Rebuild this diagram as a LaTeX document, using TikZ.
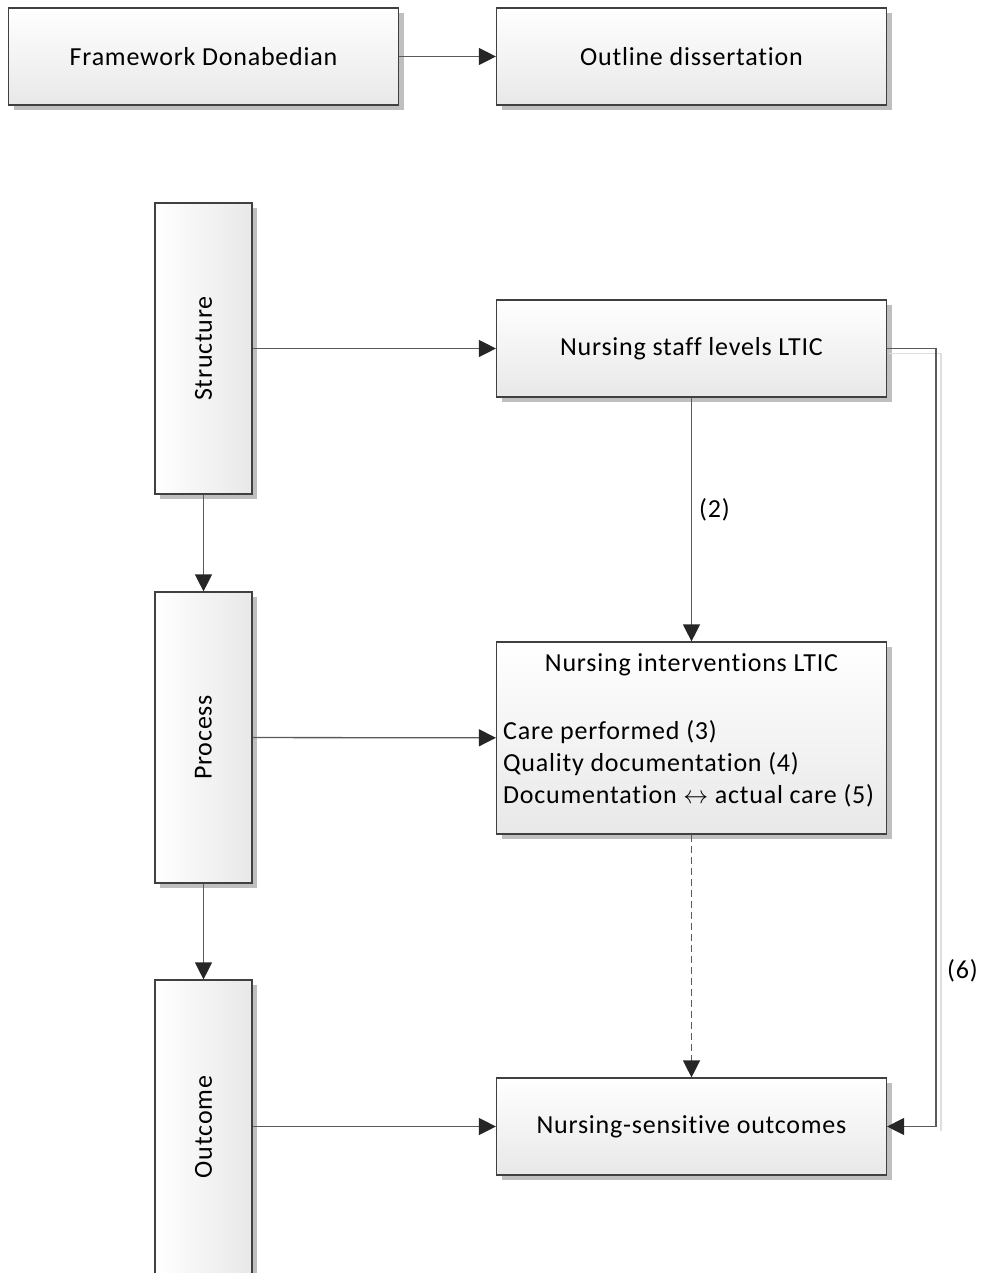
\documentclass[tikz,border=0pt]{standalone}
\usepackage{fontspec}
\setmainfont[Ligatures={NoCommon}, LetterSpace=3]{Carlito}
\usepackage{amssymb}
\definecolor{boxline}{RGB}{64, 64, 64}
\definecolor{linkline}{RGB}{90, 90, 90}
\definecolor{tipcol}{RGB}{38, 38, 38}
\usetikzlibrary{positioning}
\usetikzlibrary{shadows}
\usetikzlibrary{arrows.meta}

\begin{document}
\begin{tikzpicture}
				[x=1pt, y=-1pt, every node/.style={inner sep=0pt, text=black, font=\fontsize{26pt}{32pt}\selectfont},
				hbox/.style={rectangle, minimum width=390pt, minimum height=97pt, top color=white, bottom color=black!9, draw=boxline, line width=1.2pt, drop shadow={shadow xshift=5pt, shadow yshift=-5pt, fill=black!25, opacity=1}},
				vbox/.style={rectangle, minimum width=97pt, minimum height=291pt, left color=white, right color=black!9, draw=boxline, line width=1.2pt, drop shadow={shadow xshift=5pt, shadow yshift=-5pt, fill=black!25, opacity=1}},
				link/.style={line width=1.3pt, color=linkline, -{Triangle[length=17pt, width=17pt, color=tipcol]}},
				dlink/.style={link, dash pattern=on 7pt off 4pt},
				linkshadow/.style={line width=1.3pt, color=black!13}]
				\clip (0, 0) rectangle (983, 1273);
				% top row
				\node (frame) [hbox] at (203.5, 56.5) {Framework Donabedian};
				\node (outline) [hbox] at (691.5, 56.5) {Outline dissertation};
				% Donabedian columns
				\node (structure) [vbox] at (203.5, 348.5) {\rotatebox{90}{Structure}};
				\node (process) [vbox] at (203.5, 737.5) {\rotatebox{90}{Process}};
				\node (outcome) [vbox, minimum height=320pt] at (203.5, 1140) {\rotatebox{90}{\hspace*{26pt}Outcome}};
				% dissertation boxes
				\node (staff) [hbox] at (691.5, 348.5) {Nursing staff levels LTIC};
				\node (interv) [hbox, minimum height=192pt] at (691.5, 738) {};
				\node (intervtitle) [anchor=center] at (691.5, 665) {Nursing interventions LTIC};
				\node (intervlist) [anchor=west, align=left] at (503, 764) {Care performed (3)\\Quality documentation (4)\\Documentation $\leftrightarrow$ actual care (5)};
				\node (outcomes) [hbox] at (691.5, 1126.5) {Nursing-sensitive outcomes};
				\coordinate (turn) at (936, 348.5);
				% connectors
				\draw [linkshadow] ([xshift=2pt, yshift=-5pt]staff.east) -| (941, 1131);
				\draw [link] (frame) to (outline);
				\draw [link] (structure) to (staff);
				\draw [link] (process) to (interv);
				\draw [link] (outcome.east |- outcomes) to (outcomes);
				\draw [link] (structure) to (process);
				\draw [link] (process) to (outcome);
				\draw [link] (staff) to node [right=7pt, pos=0.46] {(2)} (interv);
				\draw [dlink] (interv) to (outcomes);
				\draw [link] (staff.east) -- (turn) |- (outcomes.east);
				\node (six) [anchor=west] at (947, 971) {(6)};
		\end{tikzpicture}
\end{document}
